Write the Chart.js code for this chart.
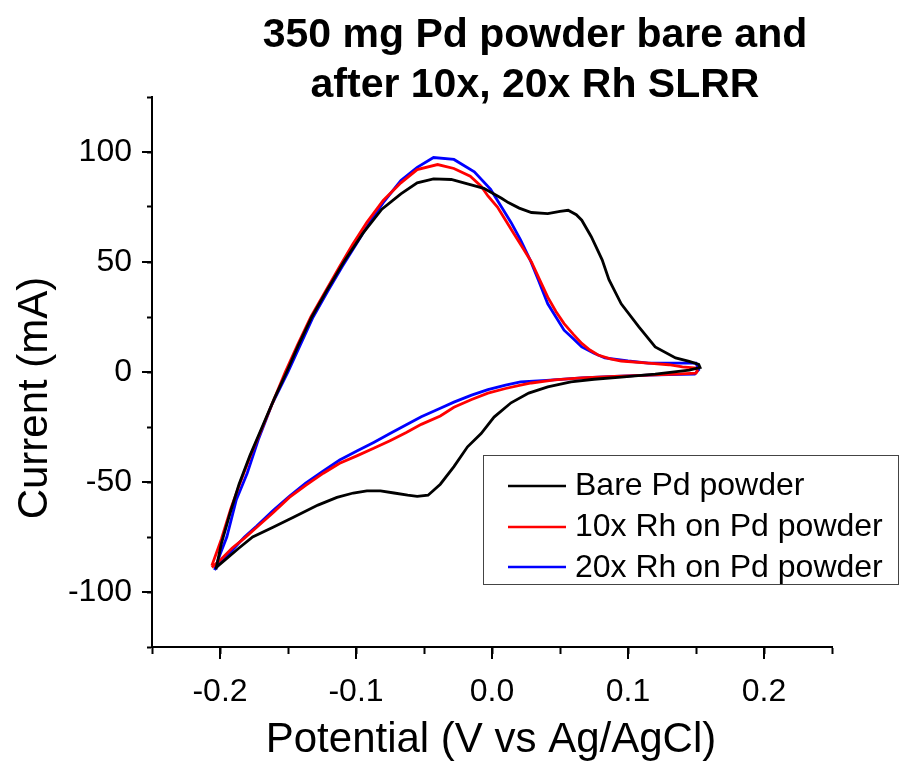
<!DOCTYPE html>
<html><head><meta charset="utf-8">
<script src="https://cdn.jsdelivr.net/npm/chart.js@4.4.0/dist/chart.umd.min.js"></script>
<style>html,body{margin:0;padding:0;background:#fff;}canvas{display:block;}</style>
</head><body>
<canvas id="c" width="904" height="761"></canvas>
<script>
const titleLines = ['350 mg Pd powder bare and', 'after 10x, 20x Rh SLRR'];
const xTitle = 'Potential (V vs Ag/AgCl)';
const yTitle = 'Current (mA)';
const seriesNames = ['Bare Pd powder', '10x Rh on Pd powder', '20x Rh on Pd powder'];
const seriesColors = ['#000000', '#ff0000', '#0000ff'];
const xMajorTicks = [-0.2, -0.1, 0.0, 0.1, 0.2];
const xTickLabels = ['-0.2', '-0.1', '0.0', '0.1', '0.2'];
const yMajorTicks = [-100, -50, 0, 50, 100];
const yTickLabels = ['-100', '-50', '0', '50', '100'];

const potentialBare = [-0.203,-0.199,-0.193,-0.186,-0.178,-0.169,-0.160,-0.151,-0.1425,-0.1325,-0.1215,-0.109,-0.095,-0.081,-0.067,-0.055,-0.043,-0.030,-0.018,-0.006,0.007,0.012,0.020,0.029,0.041,0.050,0.056,0.062,0.066,0.073,0.081,0.086,0.095,0.108,0.120,0.135,0.145,0.152,0.153,0.145,0.120,0.095,0.075,0.058,0.041,0.027,0.014,0.0015,-0.008,-0.018,-0.028,-0.038,-0.047,-0.055,-0.062,-0.072,-0.082,-0.092,-0.102,-0.114,-0.128,-0.146,-0.161,-0.176,-0.186,-0.195,-0.203];
const currentBare = [-89.7,-78,-65,-51,-38,-25,-12,0,12,25,37,50,63,74,81,86,87.8,87.5,85.5,83.5,79,77,74.5,72.5,72,73,73.5,71.5,69,61.5,51,42,31,20.5,11.4,6.4,4.8,3.5,2,0.9,-1,-2.3,-3.3,-4.5,-6.8,-9.6,-14,-20.5,-28,-34,-43,-51,-56,-56.5,-56,-55,-54,-54,-55,-57,-60.5,-66,-70.6,-75,-80,-84.7,-89];

const potential10x = [-0.206,-0.199,-0.192,-0.185,-0.177,-0.168,-0.160,-0.152,-0.1432,-0.1332,-0.1222,-0.112,-0.1025,-0.092,-0.080,-0.067,-0.055,-0.040,-0.028,-0.016,-0.008,-0.003,0.004,0.010,0.016,0.022,0.029,0.035,0.041,0.047,0.053,0.060,0.066,0.072,0.078,0.087,0.095,0.115,0.130,0.140,0.150,0.151,0.150,0.135,0.115,0.090,0.066,0.046,0.029,0.021,0.010,-0.003,-0.015,-0.028,-0.038,-0.052,-0.063,-0.075,-0.087,-0.099,-0.112,-0.124,-0.137,-0.149,-0.161,-0.173,-0.182,-0.191,-0.199,-0.206];
const current10x = [-88,-76,-62,-50,-37,-24,-12,0,12,25,37,48,58,68,78,86,92,94.3,92.5,89,84.5,80,75,69,63,57,50,42,34,27.5,22,17,13,10,7.7,6,5,4,3.3,2.3,1.8,0.5,-0.5,-1,-1.4,-2,-2.7,-3.6,-5,-6,-7.5,-9.6,-12.5,-16,-20,-23.8,-27.5,-31.2,-34.7,-38,-41.5,-46,-51.5,-57,-64,-70.6,-75.5,-80,-85,-88.8];

const potential20x = [-0.204,-0.200,-0.195,-0.188,-0.180,-0.172,-0.162,-0.150,-0.1412,-0.1315,-0.1205,-0.110,-0.100,-0.090,-0.080,-0.067,-0.055,-0.043,-0.028,-0.013,-0.001,0.007,0.014,0.021,0.028,0.034,0.041,0.047,0.053,0.060,0.066,0.075,0.083,0.100,0.115,0.135,0.150,0.152,0.149,0.130,0.115,0.090,0.066,0.040,0.021,0.010,-0.003,-0.015,-0.028,-0.038,-0.052,-0.063,-0.075,-0.087,-0.099,-0.112,-0.124,-0.137,-0.149,-0.161,-0.173,-0.182,-0.191,-0.199,-0.204];
const current20x = [-90,-83,-75,-58,-46,-31,-15,0,12,25,37,48,58,68,77,87,93,97.5,96.6,91,83,75,68,60,51,42,31,25,19,15,11.4,8.5,6.4,5,4,4,4,1,-1,-1.2,-1.4,-2,-2.7,-3.8,-4.5,-6,-8,-10.5,-13.7,-16.5,-20.3,-24,-28,-32,-35.8,-40,-45,-50.5,-56.5,-63,-70,-75,-81,-86,-90];

const FONT = '"Liberation Sans", Arial, sans-serif';
const zip = (xs, ys) => xs.map((x, i) => ({x: x, y: ys[i]}));
const seriesData = [zip(potentialBare, currentBare), zip(potential10x, current10x), zip(potential20x, current20x)];

function labelFor(v, majors, labels) {
  for (let i = 0; i < majors.length; i++) if (Math.abs(v - majors[i]) < 1e-6) return labels[i];
  return '';
}

const decor = {
  id: 'decor',
  afterDraw(chart) {
    const ctx = chart.ctx, xs = chart.scales.x, ys = chart.scales.y, ca = chart.chartArea;
    ctx.save();
    ctx.strokeStyle = '#000'; ctx.lineWidth = 2;
    xMajorTicks.forEach(v => { const px = xs.getPixelForValue(v); ctx.beginPath(); ctx.moveTo(px, ca.bottom); ctx.lineTo(px, ca.bottom + 12); ctx.stroke(); });
    yMajorTicks.forEach(v => { const py = ys.getPixelForValue(v); ctx.beginPath(); ctx.moveTo(ca.left, py); ctx.lineTo(ca.left - 10, py); ctx.stroke(); });
    ctx.fillStyle = '#000'; ctx.textAlign = 'center'; ctx.textBaseline = 'alphabetic';
    ctx.font = 'bold 41px ' + FONT;
    ctx.fillText(titleLines[0], 535, 47);
    ctx.fillText(titleLines[1], 535, 97);
    ctx.font = '42px ' + FONT;
    ctx.fillText(xTitle, 491, 752);
    ctx.save(); ctx.translate(47, 398); ctx.rotate(-Math.PI / 2); ctx.fillText(yTitle, 0, 0); ctx.restore();
    // legend
    ctx.strokeStyle = '#444'; ctx.lineWidth = 1;
    ctx.strokeRect(483.5, 455.5, 415, 129);
    const lineYs = [486, 527, 567], baseYs = [495, 536, 577];
    ctx.font = '32px ' + FONT; ctx.textAlign = 'left';
    for (let i = 0; i < 3; i++) {
      ctx.strokeStyle = seriesColors[i]; ctx.lineWidth = 2.5;
      ctx.beginPath(); ctx.moveTo(508, lineYs[i]); ctx.lineTo(566, lineYs[i]); ctx.stroke();
      ctx.fillStyle = '#000';
      ctx.fillText(seriesNames[i], 575, baseYs[i]);
    }
    ctx.restore();
  }
};

new Chart(document.getElementById('c'), {
  type: 'scatter',
  data: {
    datasets: seriesData.map((d, i) => ({
      label: seriesNames[i], data: d, showLine: true, borderColor: seriesColors[i],
      backgroundColor: seriesColors[i], borderWidth: 2.8, pointRadius: 0, tension: 0, fill: false
    }))
  },
  options: {
    responsive: false, animation: false, devicePixelRatio: 1,
    layout: { padding: { left: 0, right: 72, top: 97, bottom: 0 } },
    plugins: { legend: { display: false }, title: { display: false }, tooltip: { enabled: false } },
    scales: {
      x: {
        type: 'linear', min: -0.25, max: 0.25,
        afterFit: s => { s.height = 114; },
        afterBuildTicks: s => { const t = []; for (let k = -5; k <= 5; k++) t.push({value: k * 0.05}); s.ticks = t; },
        grid: { drawOnChartArea: false, drawTicks: true, tickLength: 7, tickColor: '#000', tickWidth: 2 },
        border: { display: true, color: '#000', width: 2 },
        ticks: { color: '#000', font: { family: FONT, size: 32 }, padding: 19, maxRotation: 0, autoSkip: false,
          callback: v => labelFor(v, xMajorTicks, xTickLabels) }
      },
      y: {
        type: 'linear', min: -125, max: 125,
        afterFit: s => { s.width = 152; },
        afterBuildTicks: s => { const t = []; for (let k = -5; k <= 5; k++) t.push({value: k * 25}); s.ticks = t; },
        grid: { drawOnChartArea: false, drawTicks: true, tickLength: 5, tickColor: '#000', tickWidth: 2 },
        border: { display: true, color: '#000', width: 2 },
        ticks: { color: '#000', font: { family: FONT, size: 32 }, padding: 15, autoSkip: false,
          callback: v => labelFor(v, yMajorTicks, yTickLabels) }
      }
    }
  },
  plugins: [decor]
});
</script></body></html>
